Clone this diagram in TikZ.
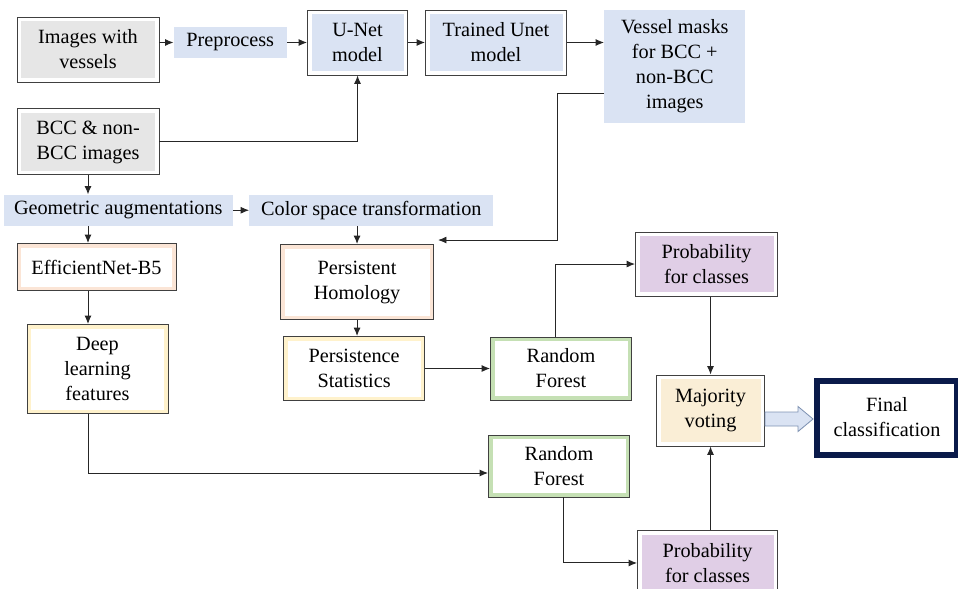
\documentclass[tikz,border=0pt]{standalone}
\usepackage{fontspec}
\setmainfont{Liberation Serif}
\usetikzlibrary{arrows.meta, positioning, calc}
\definecolor{imggray}{HTML}{E6E6E6}
\definecolor{lblue}{HTML}{DAE3F3}
\definecolor{peach}{HTML}{FBE5D6}
\definecolor{lyellow}{HTML}{FFF2CC}
\definecolor{lgreen}{HTML}{C5E0B4}
\definecolor{lpurple}{HTML}{E0CEE6}
\definecolor{beige}{HTML}{FAEED6}
\definecolor{navy}{HTML}{0A1A4A}
\definecolor{arrowedge}{HTML}{7F93B3}
\tikzset{framed/.style 2 args={rectangle, draw=black!75, line width=0.7pt, fill=#1, text centered, align=center, inner sep=0pt,
	path picture={\fill[#2] ([shift={(0.1cm,-0.1cm)}]path picture bounding box.north west) rectangle ([shift={(-0.1cm,0.1cm)}]path picture bounding box.south east);}}}
\tikzstyle{tinted} = [rectangle, fill=lblue, text centered, align=center, inner sep=0pt]
\tikzstyle{flow} = [line width=0.7pt, black!85, -{Latex[length=6pt,width=5pt]}]
\tikzstyle{fat} = [fill=lblue, draw=arrowedge, line width=0.6pt]
\tikzstyle{final} = [rectangle, draw=navy, line width=4.25pt, fill=white, text centered, align=center, inner sep=0pt]

\begin{document}
\begin{tikzpicture}[font=\fontsize{14.4pt}{17.8pt}\selectfont]

	\useasboundingbox (-2.2,1.2375) rectangle (21.75,-13.4875);

	% Segmentation branch
	\node (imgves) [framed={white}{imggray}, minimum width=3.55cm, minimum height=1.625cm] {Images with\\vessels};
	\node (prep) [tinted, right=0.35cm of imgves, yshift=0.175cm, minimum width=2.825cm, minimum height=0.775cm] {Preprocess};
	\node (unet) [framed={white}{lblue}, right=0.5cm of prep, minimum width=2.5cm, minimum height=1.625cm] {U-Net\\model};
	\node (trained) [framed={white}{lblue}, right=0.425cm of unet, minimum width=3.525cm, minimum height=1.625cm] {Trained Unet\\model};
	\node (vmask) [tinted, right=0.925cm of trained.north east, anchor=north west, minimum width=3.525cm, minimum height=2.825cm] {Vessel masks\\for BCC +\\non-BCC\\images};

	% Input and augmentation
	\node (bcc) [framed={white}{imggray}, below=0.65cm of imgves, minimum width=3.55cm, minimum height=1.65cm] {BCC \& non-\\BCC images};
	\node (geom) [tinted, below right=0.475cm and -0.325cm of bcc.south west, minimum width=5.725cm, minimum height=0.775cm] {Geometric augmentations};
	\node (color) [tinted, right=0.4cm of geom, minimum width=6.1cm, minimum height=0.775cm] {Color space transformation};

	% Deep learning branch
	\node (effnet) [framed={peach}{white}, below right=0.425cm and 0.325cm of geom.south west, minimum width=3.975cm, minimum height=1.175cm] {EfficientNet-B5};
	\node (deep) [framed={lyellow}{white}, below right=0.825cm and 0.25cm of effnet.south west, minimum width=3.525cm, minimum height=2.225cm] {Deep\\learning\\features};

	% Topological branch
	\node (ph) [framed={peach}{white}, below right=0.45cm and 0.775cm of color.south west, minimum width=3.825cm, minimum height=1.875cm] {Persistent\\Homology};
	\node (pstat) [framed={lyellow}{white}, below right=0.4cm and 0.075cm of ph.south west, minimum width=3.525cm, minimum height=1.6cm] {Persistence\\Statistics};

	% Classifiers and voting
	\node (rf1) [framed={lgreen}{white}, right=1.625cm of pstat, minimum width=3.525cm, minimum height=1.575cm] {Random\\Forest};
	\node (prob1) [framed={white}{lpurple}, above right=1.0cm and 0.075cm of rf1.north east, minimum width=3.55cm, minimum height=1.6cm] {Probability\\for classes};
	\node (rf2) [framed={lgreen}{white}, below right=0.85cm and -0.05cm of rf1.south west, minimum width=3.525cm, minimum height=1.55cm] {Random\\Forest};
	\node (prob2) [framed={white}{lpurple}, below right=0.825cm and 0.175cm of rf2.south east, minimum width=3.5cm, minimum height=1.6cm] {Probability\\for classes};
	\node (vote) [framed={white}{beige}, below right=1.95cm and 0.525cm of prob1.south west, minimum width=2.7cm, minimum height=1.775cm] {Majority\\voting};
	\node (result) [final, right=1.225cm of vote, yshift=-0.175cm, minimum width=3.5cm, minimum height=1.85cm] {Final\\classification};

	% Arrows - segmentation
	\draw[flow] (imgves.east |- prep.west) -- (prep.west);
	\draw[flow] (prep) -- (unet);
	\draw[flow] (unet) -- (trained);
	\draw[flow] (trained.east) -- (trained.east -| vmask.west);
	\draw[flow] (bcc) -| (unet);
	\draw[flow] ([yshift=-0.6875cm]vmask.west) -- ++(-1.175cm,0) |- ([xshift=0.1cm,yshift=0.1cm]ph.north east);

	% Arrows - augmentation and features
	\draw[flow] (bcc.south) -- (bcc.south |- geom.north);
	\draw[flow] (geom) -- (color);
	\draw[flow] (bcc.south |- geom.south) -- (bcc.south |- effnet.north);
	\draw[flow] (bcc.south |- effnet.south) -- (bcc.south |- deep.north);
	\draw[flow] (ph.north |- color.south) -- (ph.north);
	\draw[flow] (ph.south) -- (ph.south |- pstat.north);

	% Arrows - classifiers
	\draw[flow] (pstat) -- (rf1);
	\draw[flow] ([xshift=-0.15cm]rf1.north) |- (prob1);
	\draw[flow] (bcc.south |- deep.south) |- ([yshift=-0.175cm]rf2.west);
	\draw[flow] ([xshift=0.1cm]rf2.south) |- (prob2);
	\draw[flow] (prob1.south -| vote) -- (vote);
	\draw[flow] (prob2.north -| vote) -- (vote);

	% Block arrow to the result
	\draw[fat] ([yshift=-0.0375cm]vote.east) -- ++(0.825,0) -- ++(0,0.1375) -- ++(0.375,-0.3125) -- ++(-0.375,-0.3125) -- ++(0,0.1375) -- ++(-0.825,0) -- cycle;

\end{tikzpicture}
\end{document}
